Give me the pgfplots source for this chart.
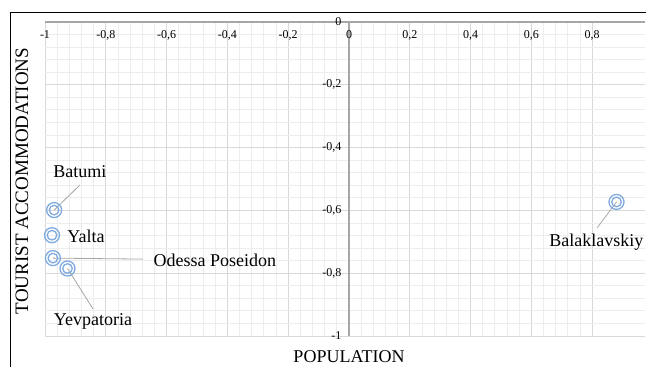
\documentclass[border=0pt]{standalone}
\usepackage{pgfplots}
\pgfplotsset{compat=1.18}
\usepackage{fontspec}
\setmainfont{Liberation Serif}
\definecolor{mk}{HTML}{7FAADF}
\definecolor{majg}{HTML}{D9D9D9}
\definecolor{ming}{HTML}{EDEDED}
\definecolor{axg}{HTML}{A6A6A6}
\begin{document}
\begin{tikzpicture}[x=1pt,y=1pt]
\useasboundingbox (0,0) rectangle (646,367);
\draw[black, line width=1pt] (10,0) -- (10,354) -- (646,354);
\begin{axis}[
  scale only axis,
  width=600.4pt, height=314pt,
  at={(45pt,31pt)}, anchor=south west,
  xmin=-1, xmax=0.975, ymin=-1, ymax=0,
  axis lines=middle,
  axis line style={-, draw=axg, line width=1.5pt},
  hide obscured x ticks=false, hide obscured y ticks=false,
  xtick={-1,-0.8,-0.6,-0.4,-0.2,0,0.2,0.4,0.6,0.8},
  ytick={-1,-0.8,-0.6,-0.4,-0.2,0},
  minor tick num=4,
  major tick length=0pt, minor tick length=0pt,
  grid=both,
  major grid style={draw=majg, line width=0.9pt},
  minor grid style={draw=ming, line width=0.9pt},
  /pgf/number format/use comma,
  /pgf/number format/assume math mode=true,
  tick label style={font=\fontsize{12}{13}\selectfont},
  x tick label style={yshift=-5pt},
  y tick label style={xshift=-4pt},
  clip=false,
]
\addplot[only marks, mark=o, mark size=7.5pt, mark options={draw=mk, line width=1.3pt}] table {
x y
-0.970 -0.599
-0.977 -0.679
-0.974 -0.752
-0.926 -0.785
0.880 -0.573
};
\addplot[only marks, mark=o, mark size=4.8pt, mark options={draw=mk, line width=1.3pt}] table {
x y
-0.970 -0.599
-0.977 -0.679
-0.974 -0.752
-0.926 -0.785
0.880 -0.573
};
\draw[axg, line width=0.8pt] (axis cs:-0.970,-0.599) -- (axis cs:-0.885,-0.519);
\draw[axg, line width=0.8pt] (axis cs:-0.974,-0.752) -- (axis cs:-0.678,-0.755);
\draw[axg, line width=0.8pt] (axis cs:-0.926,-0.785) -- (axis cs:-0.842,-0.914);
\draw[axg, line width=0.8pt] (axis cs:0.880,-0.573) -- (axis cs:0.816,-0.656);
\begin{scope}[font=\fontsize{18}{20}\selectfont]
\node at (axis cs:-0.885,-0.478) {Batumi};
\node at (axis cs:-0.865,-0.682) {Yalta};
\node at (axis cs:-0.441,-0.758) {Odessa Poseidon};
\node at (axis cs:-0.842,-0.955) {Yevpatoria};
\node at (axis cs:0.814,-0.700) {Balaklavskiy};
\end{scope}
\end{axis}
\node[font=\fontsize{18}{20}\selectfont] at (349,10) {POPULATION};
\node[font=\fontsize{19}{21}\selectfont, rotate=90] at (22,186) {TOURIST ACCOMMODATIONS};
\end{tikzpicture}
\end{document}
